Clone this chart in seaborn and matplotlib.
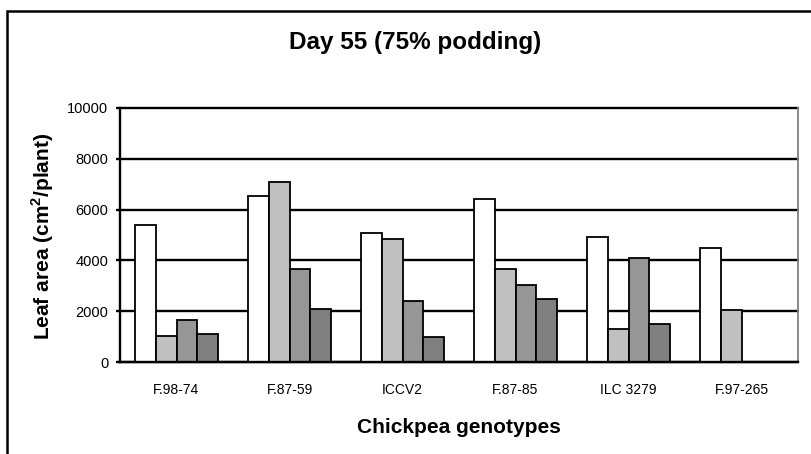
import numpy as np
import pandas as pd
import matplotlib
matplotlib.use("Agg")
import matplotlib.pyplot as plt
from matplotlib.patches import Rectangle
from matplotlib.ticker import FixedLocator, NullFormatter
import seaborn as sns

# Leaf area per genotype, four series (no legend in the original)
genotypes = ["F.98-74", "F.87-59", "ICCV2", "F.87-85", "ILC 3279", "F.97-265"]
series_names = ["S1", "S2", "S3", "S4"]
s1 = [5380, 6540, 5070, 6430, 4910, 4490]
s2 = [1040, 7070, 4840, 3680, 1300, 2040]
s3 = [1640, 3680, 2410, 3040, 4090, np.nan]
s4 = [1100, 2080, 970, 2500, 1500, np.nan]
y_ticks = [0, 2000, 4000, 6000, 8000, 10000]
bar_colors = ["#FFFFFF", "#C0C0C0", "#969696", "#808080"]

sns.set_theme(style="white")
plt.rcParams["font.family"] = ["Liberation Sans", "DejaVu Sans"]
plt.rcParams["mathtext.fontset"] = "custom"
plt.rcParams["mathtext.rm"] = "Liberation Sans:bold"
plt.rcParams["mathtext.bf"] = "Liberation Sans:bold"
plt.rcParams["text.color"] = "black"
plt.rcParams["xtick.color"] = "black"
plt.rcParams["ytick.color"] = "black"

rows = []
for name, vals in zip(series_names, [s1, s2, s3, s4]):
    for g, v in zip(genotypes, vals):
        rows.append({"genotype": g, "series": name, "area": v})
df = pd.DataFrame(rows).dropna()

W, H = 812, 454
fig = plt.figure(figsize=(W / 100, H / 100), dpi=100)
ax = fig.add_axes([120 / W, 1 - 362 / H, (798 - 120) / W, (362 - 108) / H])

sns.barplot(data=df, x="genotype", y="area", hue="series", order=genotypes,
            hue_order=series_names, palette=bar_colors, edgecolor="black",
            linewidth=1.3, width=0.735, errorbar=None, legend=False, ax=ax)

ax.set_xlim(-0.5, len(genotypes) - 0.5)
ax.set_ylim(0, 10000)
ax.set_yticks(y_ticks)
ax.set_yticklabels([str(t) for t in y_ticks], fontsize=10.5)
ax.set_axisbelow(True)
ax.yaxis.grid(True, color="black", linewidth=1.7)
ax.xaxis.grid(False)
for gl in ax.get_ygridlines():
    gl.set_clip_on(False)

# category boundaries get the ticks, names sit in between
ax.xaxis.set_major_locator(FixedLocator(np.arange(-0.5, len(genotypes), 1.0)))
ax.xaxis.set_major_formatter(NullFormatter())
ax.xaxis.set_minor_locator(FixedLocator(np.arange(len(genotypes))))
ax.set_xticklabels(genotypes, minor=True, fontsize=10)
ax.tick_params(axis="x", which="major", direction="out", length=3, width=1.7, color="black")
ax.tick_params(axis="x", which="minor", length=0, pad=15, labelcolor="black")
ax.tick_params(axis="y", direction="out", length=3, width=1.7, color="black", pad=5.5,
               left=True, labelcolor="black")
ax.set_xlabel("")
ax.set_ylabel("")

for side in ["left", "bottom"]:
    ax.spines[side].set_color("black")
    ax.spines[side].set_linewidth(1.7)
ax.spines["right"].set_color("#808080")
ax.spines["right"].set_linewidth(1.3)
ax.spines["top"].set_visible(False)

fig.text(415 / W, 1 - 49 / H, "Day 55 (75% podding)", ha="center", va="baseline",
         fontsize=17.5, fontweight="bold", color="black")
fig.text(459 / W, 1 - 433 / H, "Chickpea genotypes", ha="center", va="baseline",
         fontsize=15, fontweight="bold", color="black")
fig.text(43 / W, 1 - 236 / H, r"Leaf area (cm$^{2}$/plant)", ha="center", va="center",
         rotation=90, fontsize=15, fontweight="bold", color="black")

# outer chart frame (cut off on the right and bottom)
fig.patches.append(Rectangle((7 / W, -0.2), 1.5, 1.2 - 11 / H, transform=fig.transFigure,
                             fill=False, edgecolor="black", linewidth=1.8))

fig.savefig("out.png", dpi=100)
